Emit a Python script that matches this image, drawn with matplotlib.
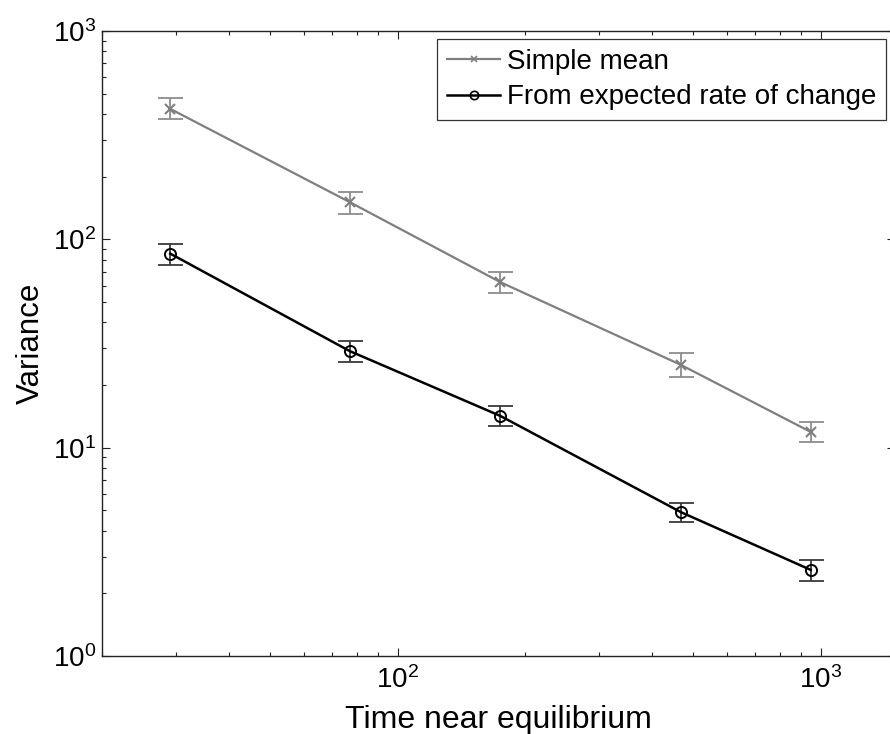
import matplotlib
matplotlib.use('Agg')
import matplotlib.pyplot as plt
from matplotlib.lines import Line2D
from matplotlib.ticker import LogLocator, NullFormatter

plt.rcParams['font.family'] = ['Liberation Sans', 'DejaVu Sans']
plt.rcParams['mathtext.fontset'] = 'custom'
plt.rcParams['mathtext.rm'] = 'Liberation Sans'
plt.rcParams['mathtext.it'] = 'Liberation Sans:italic'
plt.rcParams['mathtext.bf'] = 'Liberation Sans:bold'

# ---- data ----
time_points = [29, 77, 175, 467, 948]
simple_mean = [423, 151, 62.3, 25.0, 11.9]
simple_lo = [377, 133, 55.1, 21.9, 10.6]
simple_hi = [476, 169, 69.7, 28.6, 13.3]
rate_var = [85.4, 29.1, 14.2, 4.91, 2.59]
rate_lo = [75.6, 25.8, 12.7, 4.41, 2.29]
rate_hi = [95.3, 32.5, 15.85, 5.45, 2.88]
labels = ['Simple mean', 'From expected rate of change']

fig = plt.figure(figsize=(8.9, 7.34), dpi=100)
ax = fig.add_axes([102/890, 78/734, 793/890, 625/734])
ax.set_xscale('log')
ax.set_yscale('log')

gray = '#7f7f7f'
ebar_gray = '#8c8c8c'

s_err = [[m - l for m, l in zip(simple_mean, simple_lo)],
         [h - m for m, h in zip(simple_mean, simple_hi)]]
r_err = [[m - l for m, l in zip(rate_var, rate_lo)],
         [h - m for m, h in zip(rate_var, rate_hi)]]

ax.errorbar(time_points, simple_mean, yerr=s_err, fmt='none', ecolor=ebar_gray,
            elinewidth=1.3, capsize=9, capthick=1.3, zorder=2)
ax.errorbar(time_points, rate_var, yerr=r_err, fmt='none', ecolor='#3a3a3a',
            elinewidth=1.3, capsize=9, capthick=1.3, zorder=2)
ax.plot(time_points, simple_mean, color=gray, lw=1.6, marker='x', ms=7,
        mew=1.5, zorder=3)
ax.plot(time_points, rate_var, color='black', lw=1.8, marker='o', ms=8,
        mew=1.4, mfc='none', zorder=3)

ax.set_xlim(20, 1500)
ax.set_ylim(1, 1000)

ax.xaxis.set_major_locator(LogLocator(base=10))
ax.yaxis.set_major_locator(LogLocator(base=10))
ax.xaxis.set_minor_locator(LogLocator(base=10, subs=range(2, 10)))
ax.yaxis.set_minor_locator(LogLocator(base=10, subs=range(2, 10)))
ax.xaxis.set_minor_formatter(NullFormatter())
ax.yaxis.set_minor_formatter(NullFormatter())

ax.tick_params(which='both', direction='in', top=True, right=True, width=0.8,
               color='#222222')
ax.tick_params(which='major', length=5.5, labelsize=20)
ax.tick_params(which='minor', length=2.8)
ax.tick_params(axis='x', which='major', pad=7)
ax.tick_params(axis='y', which='major', pad=4)
for sp in ax.spines.values():
    sp.set_linewidth(1.0)
    sp.set_color('#222222')
ax.spines['right'].set_visible(False)

ax.set_xlabel('Time near equilibrium', fontsize=23, labelpad=8)
ax.set_ylabel('Variance', fontsize=22.5, labelpad=5)

handles = [Line2D([], [], color=gray, lw=1.6, marker='x', ms=5, mew=1.2),
           Line2D([], [], color='black', lw=1.8, marker='o', ms=6, mew=1.2,
                  mfc='none')]
leg = ax.legend(handles, labels, loc='upper right',
                bbox_to_anchor=(886/890, 1 - 39/734),
                bbox_transform=fig.transFigure, fontsize=20, frameon=True,
                fancybox=False, edgecolor='#333333', framealpha=1,
                handlelength=1.9, handletextpad=0.25, borderpad=0.35,
                labelspacing=0.35, borderaxespad=0)
leg.get_frame().set_linewidth(0.9)

fig.savefig('out.png', dpi=100)
